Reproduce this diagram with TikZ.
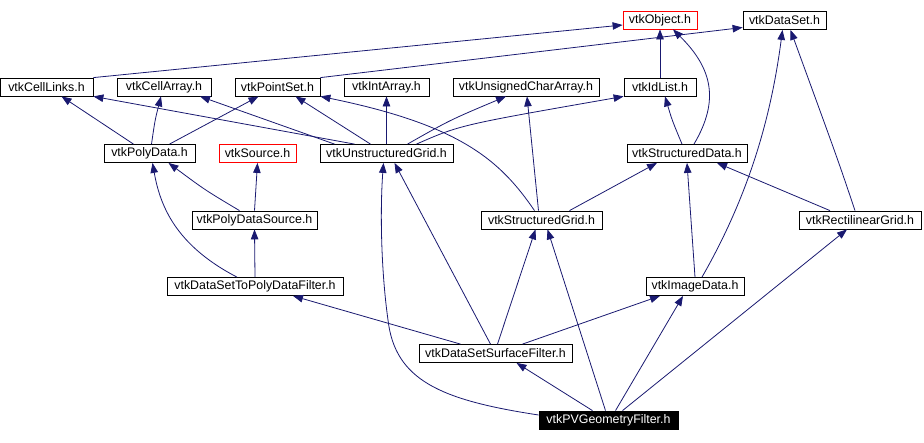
\documentclass[tikz,border=0pt]{standalone}
\usepackage{fontspec}
\setmainfont{Liberation Sans}
\usepackage{tikz}
\usetikzlibrary{arrows.meta}
\definecolor{edgeblue}{HTML}{191970}

\begin{document}
\begin{tikzpicture}[x=1pt, y=-1pt, ->, >={Triangle[length=10pt,width=7.5pt]},
  every path/.style={line width=0.8pt},
  file/.style={draw, fill=white, minimum height=18pt, inner sep=0pt, font=\fontsize{12.4}{14}\selectfont},
  dep/.style={draw=edgeblue, fill=none}]
\path[use as bounding box] (0,0) rectangle (924,442);
% top row
\node[file, draw=red, minimum width=74pt] (obj) at (660,20) {vtkObject.h};
\node[file, minimum width=83pt] (dset) at (784.5,20.5) {vtkDataSet.h};
% second row
\node[file, minimum width=93pt] (links) at (46.5,87) {vtkCellLinks.h};
\node[file, minimum width=94pt] (carray) at (164,87) {vtkCellArray.h};
\node[file, minimum width=85pt] (pset) at (277.5,87) {vtkPointSet.h};
\node[file, minimum width=85pt] (iarray) at (386.5,87) {vtkIntArray.h};
\node[file, minimum width=146pt] (ucarray) at (526,87) {vtkUnsignedCharArray.h};
\node[file, minimum width=72pt] (idlist) at (660,87) {vtkIdList.h};
% third row
\node[file, minimum width=91pt] (pdata) at (149.5,153.5) {vtkPolyData.h};
\node[file, draw=red, minimum width=77pt] (source) at (257.5,153.5) {vtkSource.h};
\node[file, minimum width=133pt] (ugrid) at (386.5,153.5) {vtkUnstructuredGrid.h};
\node[file, minimum width=120pt] (sdata) at (687,153.5) {vtkStructuredData.h};
% fourth row
\node[file, minimum width=125pt] (pdsource) at (254.5,220) {vtkPolyDataSource.h};
\node[file, minimum width=121pt] (sgrid) at (541.5,220) {vtkStructuredGrid.h};
\node[file, minimum width=122pt] (rgrid) at (860,220) {vtkRectilinearGrid.h};
% fifth row
\node[file, minimum width=176pt] (ds2pd) at (255,286.5) {vtkDataSetToPolyDataFilter.h};
\node[file, minimum width=98pt] (idata) at (695,286.5) {vtkImageData.h};
% bottom
\node[file, minimum width=153pt] (dssf) at (495.5,353.5) {vtkDataSetSurfaceFilter.h};
\node[file, fill=black, text=white, minimum width=139pt] (pvgf) at (608.5,420) {vtkPVGeometryFilter.h};

% includes of the top row
\draw[dep] (links.north east) -- ([yshift=-5pt]obj.west);
\draw[dep] (pset.north east) -- ([yshift=-7pt]dset.west);
\draw[dep] (idlist.north) -- (obj.south);
\draw[dep] ([xshift=7pt]sdata.north) .. controls (720,100) and (712,68) .. ([xshift=13pt]obj.south);
\draw[dep] ([xshift=7pt]idata.north) .. controls (752,190) and (772,110) .. ([xshift=-2pt]dset.south);
\draw[dep] ([xshift=-5pt]rgrid.north) .. controls (838,160) .. ([xshift=6pt]dset.south);
% vtkPolyData.h
\draw[dep] ([xshift=-16pt]pdata.north) -- ([xshift=15pt]links.south);
\draw[dep] ([xshift=2pt]pdata.north) .. controls (155,120) .. ([xshift=-3pt]carray.south);
\draw[dep] ([xshift=20pt]pdata.north) -- ([xshift=-19pt]pset.south);
% vtkUnstructuredGrid.h
\draw[dep] ([xshift=-32pt]ugrid.north) -- (links.south east);
\draw[dep] ([xshift=-52pt]ugrid.north) -- ([xshift=36pt]carray.south);
\draw[dep] ([xshift=-16pt]ugrid.north) -- ([xshift=18pt]pset.south);
\draw[dep] (ugrid.north) -- (iarray.south);
\draw[dep] ([xshift=21pt]ugrid.north) .. controls (450,120) .. ([xshift=-20pt]ucarray.south);
\draw[dep] ([xshift=30pt]ugrid.north) .. controls (460,125) .. (idlist.south west);
% vtkStructuredGrid.h
\draw[dep] ([xshift=-7pt]sgrid.north) .. controls (500,160) and (460,125) .. (pset.south east);
\draw[dep] ([xshift=-3pt]sgrid.north) -- ([xshift=1pt]ucarray.south);
\draw[dep] ([xshift=28pt]sgrid.north) -- ([xshift=-30pt]sdata.south);
% vtkStructuredData.h
\draw[dep] ([xshift=-5pt]sdata.north) .. controls (672,120) .. ([xshift=5pt]idlist.south);
% poly data pipeline
\draw[dep] ([xshift=-15pt]pdsource.north) .. controls (205,190) .. ([xshift=19pt]pdata.south);
\draw[dep] (pdsource.north) -- (source.south);
\draw[dep] ([xshift=-18pt]ds2pd.north) .. controls (175,245) and (160,205) .. ([xshift=3pt]pdata.south);
\draw[dep] (ds2pd.north) -- (pdsource.south);
% vtkImageData.h, vtkRectilinearGrid.h
\draw[dep] (idata.north) -- (sdata.south);
\draw[dep] ([xshift=-30pt]rgrid.north) -- ([xshift=30pt]sdata.south);
% vtkDataSetSurfaceFilter.h
\draw[dep] ([xshift=-35pt]dssf.north) -- ([xshift=38pt]ds2pd.south);
\draw[dep] ([xshift=-5pt]dssf.north) -- ([xshift=8pt]ugrid.south);
\draw[dep] ([xshift=2pt]dssf.north) -- ([xshift=-6pt]sgrid.south);
\draw[dep] ([xshift=27pt]dssf.north) -- ([xshift=-35pt]idata.south);
% vtkPVGeometryFilter.h
\draw[dep] ([xshift=-16pt]pvgf.north) -- ([xshift=21pt]dssf.south);
\draw[dep] ([yshift=5pt]pvgf.west) .. controls (440,400) and (395,380) .. (388,320)
  .. controls (381,270) and (380,210) .. ([xshift=-3pt]ugrid.south);
\draw[dep] ([xshift=-3pt]pvgf.north) -- ([xshift=6pt]sgrid.south);
\draw[dep] ([xshift=7pt]pvgf.north) -- ([xshift=-12pt]idata.south);
\draw[dep] ([xshift=14pt]pvgf.north) -- ([xshift=-13pt]rgrid.south);
\end{tikzpicture}
\end{document}
